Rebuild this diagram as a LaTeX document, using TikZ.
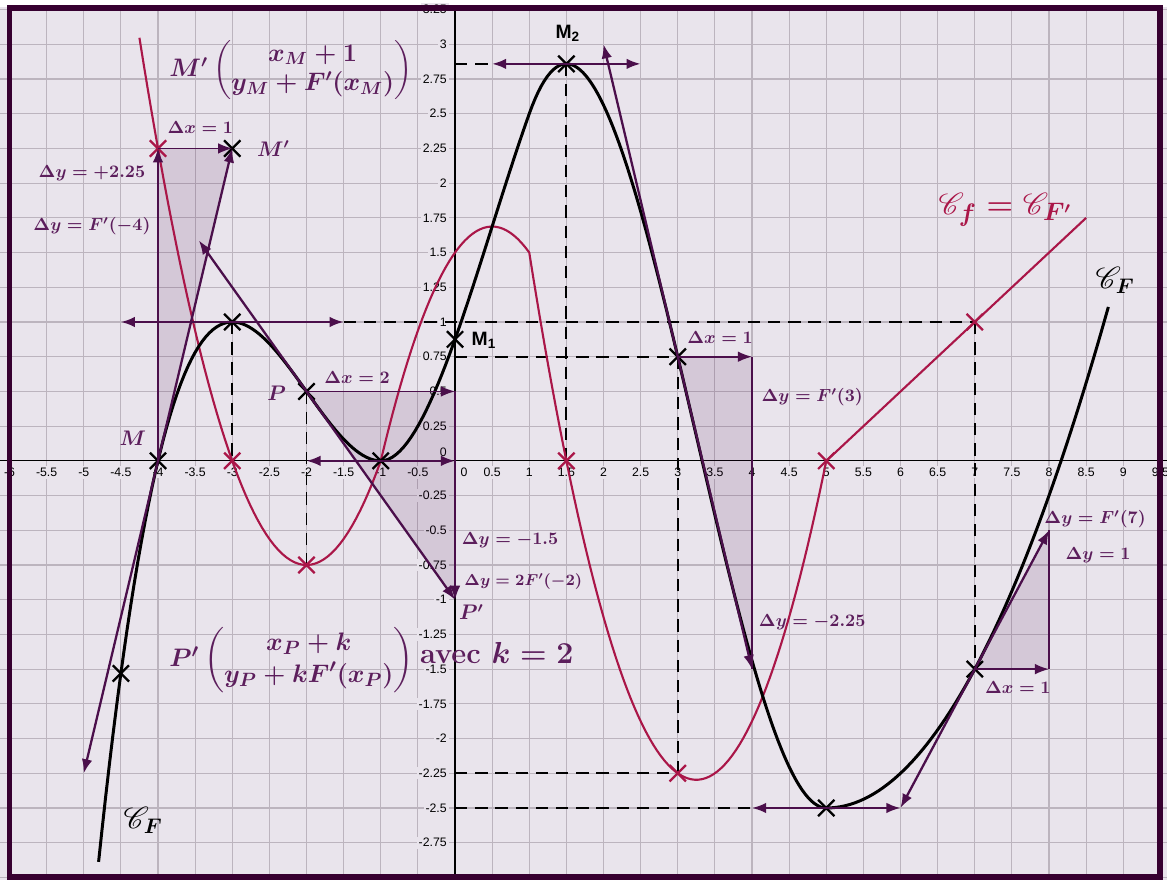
\documentclass[tikz,border=0pt]{standalone}
\usepackage{amsmath,amssymb,mathrsfs}
\usepackage{fontspec}
\setsansfont{Liberation Sans}
\usetikzlibrary{arrows.meta,shapes.misc,positioning}
\definecolor{fond}{RGB}{233,228,236}
\definecolor{grille}{RGB}{188,180,190}
\definecolor{vio}{RGB}{75,15,75}
\definecolor{txt}{RGB}{92,30,92}
\definecolor{rouge}{RGB}{170,22,72}
\definecolor{cadre}{RGB}{55,0,48}
\begin{document}
\begin{tikzpicture}[x=1.485cm,y=2.777cm,>={Latex[length=8pt,width=6pt]},
    lab/.style={text=txt,font=\boldmath},
    grand/.style={text=txt,font=\large\boldmath},
    ptN/.style={cross out,draw=black,line width=1.3pt,minimum size=8pt,inner sep=0pt},
    ptR/.style={cross out,draw=rouge,line width=1.3pt,minimum size=8pt,inner sep=0pt},
    vec/.style={vio,line width=1.3pt},
    cote/.style={vio,line width=0.9pt},
    tri/.style={fill=vio,fill opacity=0.13},
    pointille/.style={black,line width=1.1pt,dash pattern=on 7pt off 4.5pt},
    grad/.style={font=\sffamily\fontsize{7}{8}\selectfont,fill=fond,inner sep=1pt},
    nom/.style={font=\sffamily\bfseries\fontsize{11}{13}\selectfont}]
    \useasboundingbox (-6.128,-3.018) rectangle (9.589,3.319);
    \fill[fond] (-6.128,-3.018) rectangle (9.589,3.319);
    \fill[white] (-6.128,3.27) rectangle (9.589,3.319);
    % quadrillage et axes
    \draw[grille,line width=0.6pt,xstep=0.5,ystep=0.25] (-6.128,-3.018) grid (9.589,3.26);
    \coordinate (O) at (0,0);
    \draw[line width=0.7pt] (-6.128,0) -- (9.589,0);
    \draw[line width=0.7pt] (0,-3.018) -- (0,3.26);
    \foreach \v [count=\i] in {-6,-5.5,-5,-4.5,-4,-3.5,-3,-2.5,-2,-1.5,-1,-0.5,0.5,1,1.5,2,2.5,3,3.5,4,4.5,5,5.5,6,6.5,7,7.5,8,8.5,9,9.5}
        \node[grad,anchor=north,yshift=-3pt] (gx\i) at (\v,0) {\v};
    \foreach \v [count=\i] in {-2.75,-2.5,-2.25,-2,-1.75,-1.5,-1.25,-1,-0.75,-0.5,-0.25,0.25,0.5,0.75,1,1.25,1.5,1.75,2,2.25,2.5,2.75,3,3.25}
        \node[grad,anchor=east,xshift=-3.5pt] (gy\i) at (0,\v) {\v};
    \node[grad,anchor=north west,xshift=2pt,yshift=-3pt] (gx0) at (O) {0};
    \node[grad,anchor=south east,xshift=-3.5pt,yshift=1pt] (gy0) at (O) {0};
    % points
    \coordinate (fA) at (-4,2.25);
    \coordinate (H) at (0,0.5);
    \coordinate (Pp) at (0,-1);
    \coordinate (U) at (4,0.75);
    \coordinate (V) at (4,-1.5);
    \coordinate (W) at (8,-1.5);
    \coordinate (Z) at (8,-0.5);
    % triangles
    \fill[tri] (-4,0) -- (fA) -- (-3,2.25) -- cycle;
    \fill[tri] (-2,0.5) -- (H) -- (Pp) -- cycle;
    \fill[tri] (3,0.75) -- (U) -- (V) -- cycle;
    \fill[tri] (7,-1.5) -- (W) -- (Z) -- cycle;
    % pointilles
    \draw[pointille] (-3,1) -- (-3,0);
    \draw[pointille] (-2,0.5) -- (-2,-0.75);
    \draw[pointille] (-1.5,1) -- (7,1);
    \draw[pointille] (0,2.859) -- (0.5,2.859);
    \draw[pointille] (1.5,2.859) -- (1.5,0);
    \draw[pointille] (0,0.75) -- (3,0.75);
    \draw[pointille] (3,0.75) -- (3,-2.25);
    \draw[pointille] (0,-2.25) -- (3,-2.25);
    \draw[pointille] (0,-2.5) -- (4,-2.5);
    \draw[pointille] (7,1) -- (7,-1.5);
    % courbe de f = F'
    \draw[rouge,line width=1.2pt]
        plot[domain=-4.25:-1,samples=60] (\x,{0.75*(\x+1)*(\x+3)})
        -- plot[domain=-1:1,samples=40] (\x,{-0.75*(\x-2)*(\x+1)})
        -- plot[domain=1:5,samples=80] (\x,{0.75*(\x-1.5)*(\x-5)})
        -- (8.5,1.75);
    % courbe de F
    \draw[black,line width=1.7pt]
        plot[domain=-4.8:-1,samples=80] (\x,{0.25*\x*\x*\x+1.5*\x*\x+2.25*\x+1})
        -- plot[domain=-1:1,samples=40] (\x,{-0.25*\x*\x*\x+0.375*\x*\x+1.5*\x+0.875})
        -- plot[domain=1:5,samples=100] (\x,{0.25*\x*\x*\x-2.4375*\x*\x+5.625*\x-0.9375})
        -- plot[domain=5:8.8,samples=60] (\x,{0.25*(\x-5)*(\x-5)-2.5});
    % croix
    \node[ptR] (rA) at (fA) {};
    \node[ptR] (r1) at (-3,0) {};
    \node[ptR] (r2) at (-2,-0.75) {};
    \node[ptR] (r3) at (1.5,0) {};
    \node[ptR] (r4) at (3,-2.25) {};
    \node[ptR] (r5) at (5,0) {};
    \node[ptR] (r6) at (7,1) {};
    \node[ptN] (M) at (-4,0) {};
    \node[ptN] (Mp) at (-3,2.25) {};
    \node[ptN] (S) at (-3,1) {};
    \node[ptN] (P) at (-2,0.5) {};
    \node[ptN] (N) at (-1,0) {};
    \node[ptN] (M1) at (0,0.875) {};
    \node[ptN] (M2) at (1.5,2.859) {};
    \node[ptN] (A3) at (3,0.75) {};
    \node[ptN] (B) at (5,-2.5) {};
    \node[ptN] (A7) at (7,-1.5) {};
    \node[ptN] (L) at (-4.5,-1.53125) {};
    % vecteurs
    \draw[cote,->] (M.center) -- (fA);
    \draw[cote,->] (fA) -- (Mp.center);
    \draw[vec,<->] (-5,-2.25) -- (Mp.center);
    \draw[vec,<->] (-4.5,1) -- (-1.5,1);
    \draw[cote,->] (P.center) -- (H);
    \draw[cote,->] (H) -- (Pp);
    \draw[vec,<->] (-3.45,1.5875) -- (Pp);
    \draw[vec,<->] (-2,0) -- (0,0);
    \draw[vec,<->] (0.5,2.859) -- (2.5,2.859);
    \draw[cote,->] (A3.center) -- (U);
    \draw[cote] (U) -- (V);
    \draw[vec,<->] (2,3) -- (V);
    \draw[vec,<->] (4,-2.5) -- (6,-2.5);
    \draw[cote,->] (A7.center) -- (W);
    \draw[cote] (W) -- (Z);
    \draw[vec,<->] (6,-2.5) -- (Z);
    % textes
    \node[grand,font=\fontsize{14}{17}\selectfont\boldmath] (cM) at (-2.21,2.815) {$M'\begin{pmatrix} x_M+1\\ y_M+F'(x_M)\end{pmatrix}$};
    \node[lab] (dxA) at (-3.43,2.40) {$\Delta x=1$};
    \node[grand,right=6pt of Mp] (lMp) {$M'$};
    \node[lab] (dyA) at (-4.89,2.07) {$\Delta y=+2.25$};
    \node[lab] (dyB) at (-4.89,1.69) {$\Delta y=F'(-4)$};
    \node[grand] (lM) at (-4.34,0.165) {$M$};
    \node[grand] (lP) at (-2.40,0.49) {$P$};
    \node[lab] (dxP) at (-1.32,0.60) {$\Delta x=2$};
    \node[nom] (lM1) at (0.39,0.87) {M\textsubscript{1}};
    \node[nom] (lM2) at (1.52,3.08) {M\textsubscript{2}};
    \node[lab] (dyP) at (0.74,-0.57) {$\Delta y=-1.5$};
    \node[lab,font=\small\boldmath] (dyQ) at (0.92,-0.87) {$\Delta y=2F'(-2)$};
    \node[grand] (lPp) at (0.22,-1.09) {$P'$};
    \node[grand,font=\fontsize{15.5}{18}\selectfont\boldmath,anchor=west] (cP) at (-3.93,-1.434) {$P'\begin{pmatrix} x_P+k\\ y_P+kF'(x_P)\end{pmatrix}$};
    \node[text=txt,font=\fontsize{16.5}{19}\selectfont\bfseries\boldmath,anchor=west,inner sep=0pt,yshift=4pt] (avec) at (cP.east) {avec $k=2$};
    \node[lab] (dx3) at (3.57,0.89) {$\Delta x=1$};
    \node[lab] (dy3) at (4.81,0.46) {$\Delta y=F'(3)$};
    \node[lab] (dy3b) at (4.81,-1.16) {$\Delta y=-2.25$};
    \node[text=rouge,font=\fontsize{19}{22}\selectfont\boldmath] (Cf) at (7.41,1.81) {$\mathscr{C}_f=\mathscr{C}_{F'}$};
    \node[font=\LARGE\boldmath] (CF1) at (8.89,1.30) {$\mathscr{C}_F$};
    \node[font=\LARGE\boldmath] (CF2) at (-4.20,-2.59) {$\mathscr{C}_F$};
    \node[lab] (dy7) at (8.62,-0.42) {$\Delta y=F'(7)$};
    \node[lab] (dy7b) at (8.66,-0.68) {$\Delta y=1$};
    \node[lab] (dx7) at (7.58,-1.63) {$\Delta x=1$};
    % cadre
    \draw[cadre,line width=3.4pt] (-6,-3) rectangle (9.5,3.258);
\end{tikzpicture}
\end{document}
